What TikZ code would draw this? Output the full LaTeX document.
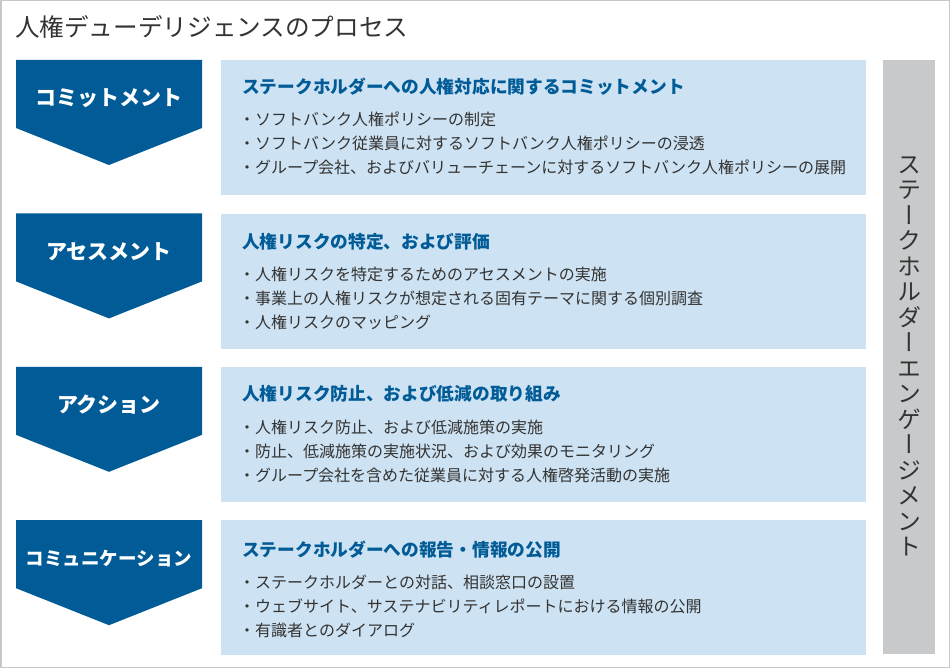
\documentclass[tikz,border=0pt]{standalone}
\usepackage{fontspec}
\setmainfont{Noto Sans CJK JP}
\newfontfamily\vjp[RawFeature=+vert]{Noto Sans CJK JP}
\usetikzlibrary{positioning}
\definecolor{sbblue}{RGB}{0,91,151}
\definecolor{panelblue}{RGB}{205,226,242}
\definecolor{bargray}{RGB}{200,201,202}
\definecolor{linegray}{RGB}{200,200,200}
\definecolor{textgray}{RGB}{51,51,51}

\begin{document}
\begin{tikzpicture}[x=1pt,y=-1pt,node distance=18pt,
    panel/.style={fill=panelblue,minimum width=645pt,minimum height=135pt,inner sep=0pt},
    chev/.style={fill=sbblue},
    chev text/.style={text=white,inner sep=0pt,font=\bfseries\fontsize{21}{24}\selectfont},
    panel title/.style={anchor=west,inner sep=0pt,text=sbblue,font=\bfseries\fontsize{17.7}{20}\selectfont},
    items/.style={anchor=west,align=left,inner sep=0pt,text=textgray,font=\fontsize{16}{24}\selectfont}]

    \useasboundingbox (0,0) rectangle (950,668);
    \draw[linegray,line width=1.5pt] (0.75,0.75) rectangle (949.25,667.25);

    \node[anchor=west,inner sep=0pt,text=textgray,font=\fontsize{24.6}{28}\selectfont] (title) at (15,27) {人権デューデリジェンスのプロセス};

    % panels
    \node[panel,anchor=north west] (cm) at (221,60) {};
    \node[panel,below=of cm] (as) {};
    \node[panel,below=of as] (ac) {};
    \node[panel,below=of ac] (co) {};

    % chevrons
    \foreach \p in {cm,as,ac,co}
        \fill[chev] ([xshift=-205pt]\p.north west) -- ([xshift=-19pt]\p.north west) -- ++(0,68)
            -- ([xshift=-112pt,yshift=-105pt]\p.north west) -- ([xshift=-205pt,yshift=-68pt]\p.north west) -- cycle;

    \node[chev text] (cm-c) at ([xshift=-112pt,yshift=-38pt]cm.north west) {コミットメント};
    \node[chev text] (as-c) at ([xshift=-112pt,yshift=-38pt]as.north west) {アセスメント};
    \node[chev text] (ac-c) at ([xshift=-112pt,yshift=-38pt]ac.north west) {アクション};
    \node[chev text,font=\bfseries\fontsize{18.5}{22}\selectfont] (co-c) at ([xshift=-112pt,yshift=-38pt]co.north west) {コミュニケーション};

    % panel texts
    \node[panel title] (cm-t) at ([xshift=21pt,yshift=-27pt]cm.north west) {ステークホルダーへの人権対応に関するコミットメント};
    \node[items] (cm-i) at ([xshift=18pt,yshift=-83pt]cm.north west)
        {・ソフトバンク人権ポリシーの制定\\・ソフトバンク従業員に対するソフトバンク人権ポリシーの浸透\\・グループ会社、およびバリューチェーンに対するソフトバンク人権ポリシーの展開};

    \node[panel title] (as-t) at ([xshift=21pt,yshift=-28pt]as.north west) {人権リスクの特定、および評価};
    \node[items] (as-i) at ([xshift=18pt,yshift=-85pt]as.north west)
        {・人権リスクを特定するためのアセスメントの実施\\・事業上の人権リスクが想定される固有テーマに関する個別調査\\・人権リスクのマッピング};

    \node[panel title] (ac-t) at ([xshift=21pt,yshift=-27pt]ac.north west) {人権リスク防止、および低減の取り組み};
    \node[items] (ac-i) at ([xshift=18pt,yshift=-85pt]ac.north west)
        {・人権リスク防止、および低減施策の実施\\・防止、低減施策の実施状況、および効果のモニタリング\\・グループ会社を含めた従業員に対する人権啓発活動の実施};

    \node[panel title] (co-t) at ([xshift=21pt,yshift=-29pt]co.north west) {ステークホルダーへの報告・情報の公開};
    \node[items] (co-i) at ([xshift=18pt,yshift=-86pt]co.north west)
        {・ステークホルダーとの対話、相談窓口の設置\\・ウェブサイト、サステナビリティレポートにおける情報の公開\\・有識者とのダイアログ};

    % stakeholder engagement bar
    \node[fill=bargray,minimum width=52pt,minimum height=594pt,inner sep=0pt,anchor=north west] (se) at (883,60) {};
    \node[align=center,inner sep=0pt,text=textgray,font=\vjp\fontsize{24}{25.5}\selectfont] (se-t) at ([yshift=1pt]se.center)
        {ス\\テ\\ー\\ク\\ホ\\ル\\ダ\\ー\\エ\\ン\\ゲ\\ー\\ジ\\メ\\ン\\ト};
\end{tikzpicture}
\end{document}
